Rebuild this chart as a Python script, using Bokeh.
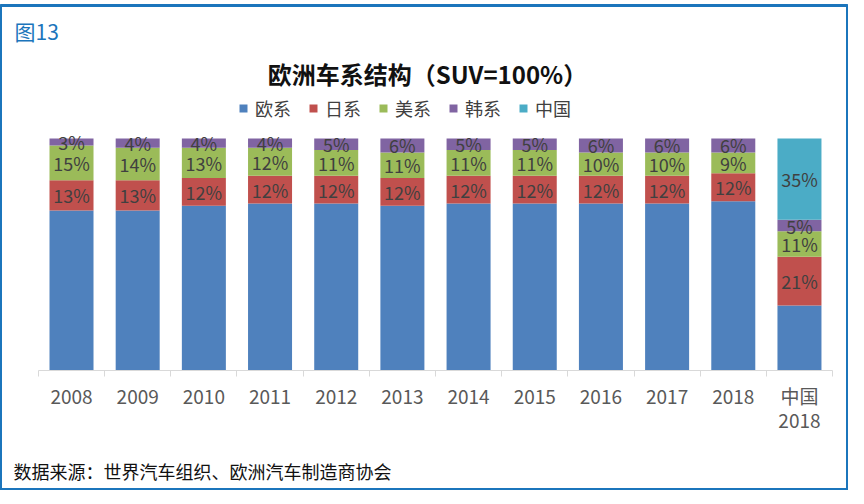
from bokeh.plotting import figure
from bokeh.models import ColumnDataSource, Range1d, FixedTicker, Label
from bokeh.embed import file_html
from bokeh.resources import INLINE
from bokeh.core.properties import value

# ---- data ----
categories = ["2008", "2009", "2010", "2011", "2012", "2013", "2014",
              "2015", "2016", "2017", "2018", "中国\n2018"]
eu = [69, 69, 71, 72, 72, 71, 72, 72, 72, 72, 73, 28]
jp = [13, 13, 12, 12, 12, 12, 12, 12, 12, 12, 12, 21]
us = [15, 14, 13, 12, 11, 11, 11, 11, 10, 10, 9, 11]
kr = [3, 4, 4, 4, 5, 6, 5, 5, 6, 6, 6, 5]
cn = [0, 0, 0, 0, 0, 0, 0, 0, 0, 0, 0, 35]
series_names = ["欧系", "日系", "美系", "韩系", "中国"]
labeled_series = ["日系", "美系", "韩系", "中国"]

title_text = "欧洲车系结构（SUV=100%）"
fig_tag = "图13"
source_text = "数据来源：世界汽车组织、欧洲汽车制造商协会"

colors = ["#4F81BD", "#C0504D", "#9BBB59", "#8064A2", "#4BACC6"]
CJK = "Noto Sans CJK SC"

n = len(categories)
xs = list(range(n))
series = dict(zip(series_names, [eu, jp, us, kr, cn]))
data = {"x": xs}
data.update(series)
source = ColumnDataSource(data)

p = figure(width=848, height=490,
           x_range=Range1d(-1.073, 11.741), y_range=Range1d(-51.29, 157.33),
           output_backend="svg", toolbar_location=None,
           y_axis_location=None,
           min_border_left=0, min_border_right=0,
           min_border_top=5, min_border_bottom=1)
p.xgrid.visible = False
p.ygrid.visible = False
p.background_fill_color = "white"
p.border_fill_color = "white"
p.outline_line_color = "#1B75BC"
p.outline_line_width = 3

p.vbar_stack(series_names, x="x", width=0.665, color=colors, line_color=None,
             source=source, legend_label=series_names)

# segment value labels
lx, ly, lt = [], [], []
for i in range(n):
    base = 0
    for name in series_names:
        v = series[name][i]
        if name in labeled_series and v > 0:
            lx.append(xs[i])
            ly.append(base + v / 2)
            lt.append(f"{v}%")
        base += v
p.text(x=lx, y=ly, text=lt, text_font=value(CJK), text_font_size="18px",
       text_color="#404040", text_align="center", text_baseline="middle")

# x axis
ax = p.xaxis[0]
ax.fixed_location = 0
ax.ticker = FixedTicker(ticks=xs, minor_ticks=[i - 0.5 for i in range(n + 1)])
ax.major_label_overrides = {i: c for i, c in zip(xs, categories)}
ax.bounds = (-0.5, n - 0.5)
ax.axis_line_color = "#D9D9D9"
ax.axis_line_width = 1
ax.major_tick_in = 0
ax.major_tick_out = 0
ax.minor_tick_in = 0
ax.minor_tick_out = 6
ax.minor_tick_line_color = "#D9D9D9"
ax.major_label_text_font = CJK
ax.major_label_text_font_size = "19px"
ax.major_label_text_color = "#595959"
ax.major_label_text_line_height = 0.9
ax.major_label_standoff = 5

# legend
lg = p.legend[0]
lg.orientation = "horizontal"
lg.location = (238, 368)
lg.padding = 0
lg.margin = 0
lg.spacing = 17
lg.glyph_width = 10
lg.glyph_height = 10
lg.label_standoff = 7
lg.label_text_font = CJK
lg.label_text_font_size = "18px"
lg.label_text_color = "#404040"
lg.border_line_color = None
lg.background_fill_alpha = 0

# texts
p.add_layout(Label(x=14, y=459, x_units="screen", y_units="screen", text=fig_tag,
                   text_font=CJK, text_font_size="21px", text_color="#1B75BC",
                   text_baseline="middle"))
p.add_layout(Label(x=427, y=416, x_units="screen", y_units="screen", text=title_text,
                   text_font=CJK, text_font_size="24px", text_font_style="bold",
                   text_color="#111111", text_align="center", text_baseline="middle"))
p.add_layout(Label(x=13, y=19, x_units="screen", y_units="screen", text=source_text,
                   text_font=CJK, text_font_size="18px", text_color="#111111",
                   text_baseline="middle"))

open("out.html", "w").write(file_html(p, INLINE))
